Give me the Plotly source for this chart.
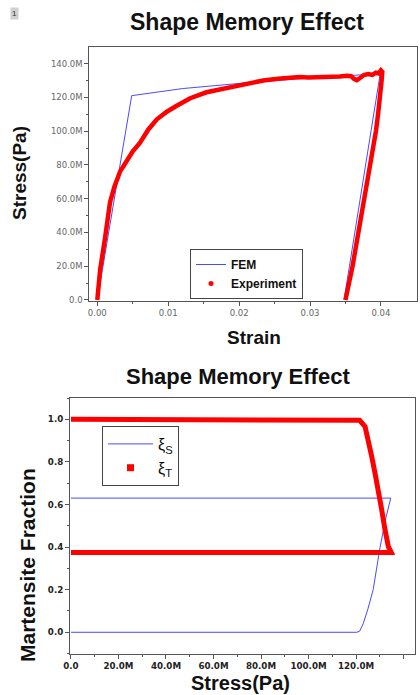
import plotly.graph_objects as go

# ---------------- Stress-strain data (stress in MPa) ----------------
fem_strain = [0.0, 0.00485, 0.0120, 0.0215, 0.0300, 0.0399, 0.0348]
fem_stress = [0.0, 121.0, 125.2, 128.8, 131.5, 134.0, 0.0]

exp_strain = [0.0, 0.0004, 0.0011, 0.0018, 0.0024, 0.0032, 0.0041, 0.0050,
              0.0060, 0.0072, 0.0084, 0.0098, 0.0112, 0.0131, 0.0154, 0.0178,
              0.0197, 0.0215, 0.0234, 0.0255, 0.0272, 0.0285, 0.0298, 0.0310,
              0.0319, 0.0330, 0.0342, 0.0352, 0.0358, 0.0362, 0.0366, 0.0371,
              0.0376, 0.0382, 0.0388, 0.0393, 0.0397, 0.0400, 0.0402,
              0.0401, 0.0399, 0.0396, 0.0393, 0.0389, 0.0385, 0.0381, 0.0377,
              0.0373, 0.0369, 0.0365, 0.0360, 0.0355, 0.0350]
exp_stress = [0.0, 18.0, 37.0, 58.0, 67.0, 76.0, 82.0, 88.0,
              93.0, 101.0, 107.0, 111.5, 115.0, 119.5, 123.0, 125.3,
              127.0, 128.3, 130.0, 131.0, 131.6, 132.0, 131.7, 131.9,
              131.5, 132.2, 132.3, 132.8, 132.6, 131.0, 130.2, 131.6,
              133.2, 133.8, 133.3, 134.6, 134.2, 136.0, 135.0,
              130.0, 120.0, 110.0, 100.0, 90.0, 80.0, 70.0, 60.0,
              50.0, 40.0, 30.0, 20.0, 10.0, 0.0]

# ---------------- Martensite fraction vs stress (MPa) ----------------
xi_s_stress = [0.0, 120.3, 121.5, 123.0, 125.0, 127.2, 130.1, 132.6, 134.6, 0.0]
xi_s_value = [0.0, 0.0, 0.005, 0.04, 0.11, 0.20, 0.40, 0.54, 0.63, 0.63]

xi_t_stress = [0.0, 120.3, 121.5, 123.8, 125.2, 126.6, 128.0, 129.4, 130.8,
               132.2, 133.6, 134.8, 0.0]
xi_t_value = [1.0, 1.0, 0.995, 0.965, 0.903, 0.824, 0.746, 0.668, 0.574,
              0.48, 0.402, 0.375, 0.375]

# ---------------- Tick definitions ----------------
top_y_vals = [0, 20, 40, 60, 80, 100, 120, 140]
top_y_text = ["0.0", "20.0M", "40.0M", "60.0M", "80.0M", "100.0M", "120.0M", "140.0M"]
top_x_vals = [0.0, 0.01, 0.02, 0.03, 0.04]
top_x_text = ["0.00", "0.01", "0.02", "0.03", "0.04"]
bot_x_vals = [0, 20, 40, 60, 80, 100, 120, 140]
bot_x_text = ["0.0", "20.0M", "40.0M", "60.0M", "80.0M", "100.0M", "120.0M", "140.0M"]
bot_y_vals = [0.0, 0.2, 0.4, 0.6, 0.8, 1.0]
bot_y_text = ["0.0", "0.2", "0.4", "0.6", "0.8", "1.0"]

BLUE = "#4a4aff"
RED = "#ff0000"
W, H = 420, 695


def px_x(p):
    return p / W


def px_y(p):
    return 1 - p / H


fig = go.Figure()

# top panel
fig.add_trace(go.Scatter(x=fem_strain, y=fem_stress, mode="lines", name="FEM",
                         line=dict(color=BLUE, width=1), legend="legend",
                         xaxis="x", yaxis="y"))
fig.add_trace(go.Scatter(x=exp_strain, y=exp_stress, mode="lines", name="Experiment",
                         line=dict(color=RED, width=4.5), showlegend=False,
                         legendgroup="exp", xaxis="x", yaxis="y"))
fig.add_trace(go.Scatter(x=[None], y=[None], mode="markers", name="Experiment",
                         marker=dict(color=RED, size=5), legendgroup="exp",
                         legend="legend", xaxis="x", yaxis="y"))

# bottom panel
fig.add_trace(go.Scatter(x=xi_s_stress, y=xi_s_value, mode="lines",
                         name="ξ<sub>S</sub>", line=dict(color=BLUE, width=1),
                         legend="legend2", xaxis="x2", yaxis="y2"))
fig.add_trace(go.Scatter(x=xi_t_stress, y=xi_t_value, mode="lines",
                         line=dict(color=RED, width=5), showlegend=False,
                         legendgroup="xit", xaxis="x2", yaxis="y2"))
fig.add_trace(go.Scatter(x=[None], y=[None], mode="markers", name="ξ<sub>T</sub>",
                         marker=dict(color=RED, size=7, symbol="square"),
                         legendgroup="xit", legend="legend2",
                         xaxis="x2", yaxis="y2"))

top_tick_font = dict(family="DejaVu Sans", size=8.5, color="#666666")
bot_tick_font = dict(family="DejaVu Sans", size=8.7, color="#222222",
                     weight="bold")
frame = dict(showline=True, mirror=True, linecolor="#555555", linewidth=1,
             showgrid=False, zeroline=False, ticks="outside", ticklen=4,
             tickcolor="#555555", tickwidth=1, automargin=False)

fig.update_layout(
    width=W, height=H, margin=dict(l=0, r=0, t=0, b=0, autoexpand=False),
    paper_bgcolor="white", plot_bgcolor="white",
    xaxis=dict(domain=[px_x(89.3), px_x(416.7)], range=[-0.00113, 0.04505],
               tickvals=top_x_vals, ticktext=top_x_text, tickfont=top_tick_font,
               minor=dict(tickvals=[0.005, 0.015, 0.025, 0.035], ticks="outside",
                          ticklen=2, tickcolor="#555555"),
               anchor="y", **frame),
    yaxis=dict(domain=[px_y(301), px_y(46.7)], range=[-0.6, 150],
               tickvals=top_y_vals, ticktext=top_y_text, tickfont=top_tick_font,
               minor=dict(tickvals=[10, 30, 50, 70, 90, 110, 130], ticks="outside",
                          ticklen=2, tickcolor="#555555"),
               anchor="x", **frame),
    xaxis2=dict(domain=[px_x(70), px_x(415)], range=[-0.4, 144.8],
                tickvals=bot_x_vals, ticktext=bot_x_text, tickfont=bot_tick_font,
                minor=dict(tickvals=[10, 30, 50, 70, 90, 110, 130], ticks="outside",
                           ticklen=2, tickcolor="#555555"),
                anchor="y2", **frame),
    yaxis2=dict(domain=[px_y(654), px_y(398)], range=[-0.102, 1.1],
                tickvals=bot_y_vals, ticktext=bot_y_text, tickfont=bot_tick_font,
                minor=dict(tickvals=[-0.1, 0.1, 0.3, 0.5, 0.7, 0.9, 1.1],
                           ticks="outside", ticklen=2, tickcolor="#555555"),
                anchor="x2", **frame),
    legend=dict(x=px_x(190), y=px_y(249), xanchor="left", yanchor="top",
                bgcolor="white", bordercolor="#444444", borderwidth=1,
                font=dict(family="Arial, Liberation Sans", size=12, color="#111111",
                          weight="bold"),
                tracegroupgap=0, itemwidth=30),
    legend2=dict(x=px_x(102), y=px_y(426), xanchor="left", yanchor="top",
                 bgcolor="white", bordercolor="#444444", borderwidth=1,
                 font=dict(family="Arial, Liberation Sans", size=16, color="#111111"),
                 tracegroupgap=0, itemwidth=45),
    showlegend=True,
)

title_font = dict(family="Arial, Liberation Sans", size=23, color="#111111", weight="bold")
axis_font_top = dict(family="Arial, Liberation Sans", size=19, color="#111111",
                     weight="bold")
axis_font_bot = dict(family="Arial, Liberation Sans", size=21, color="#111111",
                     weight="bold")

annotations = [
    dict(text="Shape Memory Effect", x=px_x(247), y=px_y(22), font=title_font),
    dict(text="Strain", x=px_x(254), y=px_y(337), font=axis_font_top),
    dict(text="Stress(Pa)", x=px_x(20), y=px_y(173), font=axis_font_top, textangle=-90),
    dict(text="Shape Memory Effect", x=px_x(238), y=px_y(376),
         font=dict(title_font, size=22)),
    dict(text="Stress(Pa)", x=px_x(241), y=px_y(683), font=dict(axis_font_bot, size=20)),
    dict(text="Martensite Fraction", x=px_x(27), y=px_y(565), font=axis_font_bot,
         textangle=-90),
    dict(text="1", x=px_x(14), y=px_y(14), bgcolor="#d0d0d0",
         font=dict(family="Arial", size=8, color="#333333"), borderpad=1),
]
for a in annotations:
    a.update(xref="paper", yref="paper", showarrow=False,
             xanchor="center", yanchor="middle")
fig.update_layout(annotations=annotations)

fig.write_html("out.html")
